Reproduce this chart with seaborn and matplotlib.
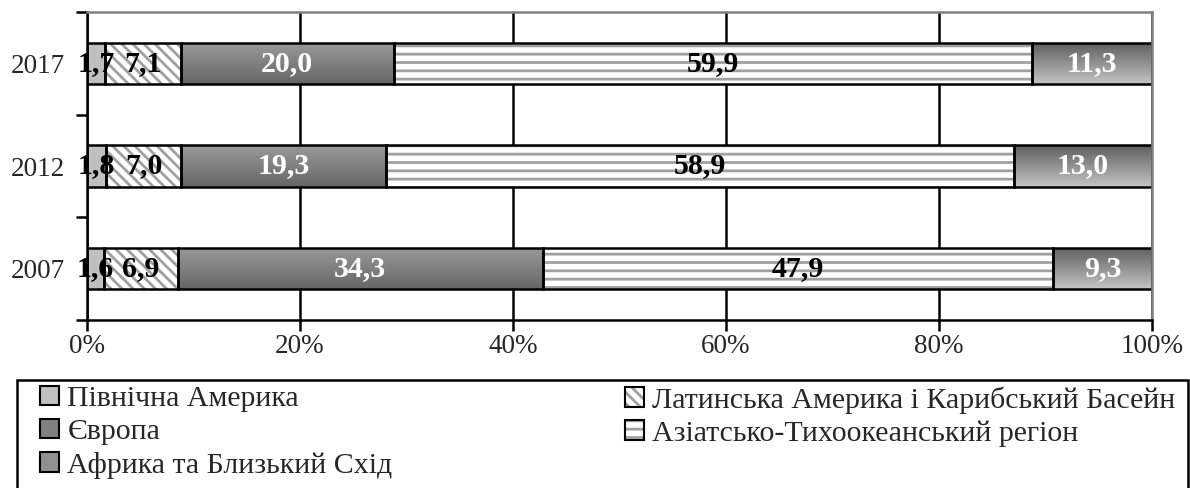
"""Stacked horizontal bar chart: regional shares by year."""

import matplotlib.pyplot as plt
import numpy as np
import pandas as pd
import seaborn as sns
from matplotlib.colors import to_rgb
from matplotlib.patches import Patch, Rectangle
from matplotlib.ticker import FixedLocator, PercentFormatter

years = ["2017", "2012", "2007"]
regions = [
    "Північна Америка",
    "Латинська Америка і Карибський Басейн",
    "Європа",
    "Азіатсько-Тихоокеанський регіон",
    "Африка та Близький Схід",
]
north_america = [1.7, 1.8, 1.6]
latin_america = [7.1, 7.0, 6.9]
europe = [20.0, 19.3, 34.3]
asia_pacific = [59.9, 58.9, 47.9]
africa_me = [11.3, 13.0, 9.3]

series = [north_america, latin_america, europe, asia_pacific, africa_me]

sns.set_theme(style="white")
plt.rcParams["font.family"] = ["Liberation Serif", "DejaVu Serif"]
plt.rcParams["hatch.linewidth"] = 2.0

W, H = 1190, 488
fig = plt.figure(figsize=(W / 100, H / 100), dpi=100)
ax = fig.add_axes([87 / W, 1 - 320 / H, (1152 - 87) / W, 308 / H])

# per-segment styling: face, hatch, gradient (top, bottom), label colour
styles = [
    dict(face="#c0c0c0", hatch=None, grad=None, text="black"),
    dict(face="white", hatch="\\\\\\", grad=None, text="black"),
    dict(face="#808080", hatch=None, grad=("#9a9a9a", "#666666"), text="white"),
    dict(face="white", hatch="--", grad=None, text="black"),
    dict(face="#909090", hatch=None, grad=("#5e5e5e", "#c4c4c4"), text="white"),
]

left = np.zeros(len(years))
for vals, st in zip(series, styles):
    df = pd.DataFrame({"year": years, "share": vals})
    sns.barplot(data=df, x="share", y="year", order=years, orient="h",
                left=left, width=0.4, color=st["face"], saturation=1,
                edgecolor="black", linewidth=1.8, ax=ax, zorder=2)
    left = left + np.array(vals)

for cont, vals, st in zip(ax.containers, series, styles):
    for bar in cont:
        x0, y0 = bar.get_x(), bar.get_y()
        w, h = bar.get_width(), bar.get_height()
        if st["grad"] is not None:
            c_top = np.array(to_rgb(st["grad"][0]))
            c_bot = np.array(to_rgb(st["grad"][1]))
            t = np.linspace(0, 1, 64)[:, None]
            img = (c_top * (1 - t) + c_bot * t)[:, None, :]
            im = ax.imshow(img, extent=(x0, x0 + w, y0 + h, y0), aspect="auto",
                           zorder=1.9, interpolation="bilinear")
            im.set_clip_path(bar)
            bar.set_facecolor("none")
        if st["hatch"] is not None:
            hp = Rectangle((x0, y0), w, h, facecolor="white", edgecolor="#a0a0a0",
                           hatch=st["hatch"], linewidth=0, zorder=1.9)
            ax.add_patch(hp)
            bar.set_facecolor("none")
    labels = [f"{v:.1f}".replace(".", ",") for v in vals]
    ax.bar_label(cont, labels=labels, label_type="center", color=st["text"],
                 fontweight="bold", fontsize=21.5, zorder=5)

ax.set_xlim(0, 100)
ax.set_ylim(2.5, -0.5)
ax.set_xlabel("")
ax.set_ylabel("")

ax.xaxis.set_major_locator(FixedLocator([0, 20, 40, 60, 80, 100]))
ax.xaxis.set_major_formatter(PercentFormatter(decimals=0))
ax.grid(axis="x", color="black", linewidth=1.8, zorder=0.5)
ax.set_axisbelow(True)

ax.yaxis.set_major_locator(FixedLocator([-0.5, 0.5, 1.5, 2.5]))
ax.yaxis.set_major_formatter(plt.NullFormatter())
ax.yaxis.set_minor_locator(FixedLocator([0, 1, 2]))
ax.yaxis.set_minor_formatter(plt.FixedFormatter(years))
ax.tick_params(axis="y", which="major", left=True, length=8, width=1.8, color="black")
ax.tick_params(axis="y", which="minor", left=True, length=0, pad=16, labelsize=19.5)
ax.tick_params(axis="x", bottom=True, length=8, width=1.8, color="black",
               labelsize=19.5, pad=2)

for side in ["top", "right"]:
    ax.spines[side].set_color("#808080")
    ax.spines[side].set_linewidth(1.8)
for side in ["left", "bottom"]:
    ax.spines[side].set_color("black")
    ax.spines[side].set_linewidth(1.8)


def legend_handle(st):
    if st["hatch"] is not None:
        return (Patch(facecolor="white", edgecolor="#a0a0a0", hatch=st["hatch"], linewidth=0),
                Patch(facecolor="none", edgecolor="black", linewidth=1.5))
    return Patch(facecolor=st["face"], edgecolor="black", linewidth=1.5)


# legend frame runs off the bottom edge, as in the source
fig.patches.append(Rectangle((17 / W, -0.1), (1188 - 17) / W, 0.1 + 1 - 380 / H,
                             transform=fig.transFigure, fill=False,
                             edgecolor="black", linewidth=1.8))

leg_kw = dict(loc="upper left", frameon=False, fontsize=21.5,
              handlelength=0.62, handleheight=0.62, handletextpad=0.3,
              labelspacing=0.22, borderpad=0, borderaxespad=0)
columns = [([0, 2, 4], 40), ([1, 3], 625)]
for idx, xpos in columns:
    fig.legend([legend_handle(styles[i]) for i in idx], [regions[i] for i in idx],
               bbox_to_anchor=(xpos / W, 1 - 386 / H), **leg_kw)

fig.savefig("out.png", dpi=100)
